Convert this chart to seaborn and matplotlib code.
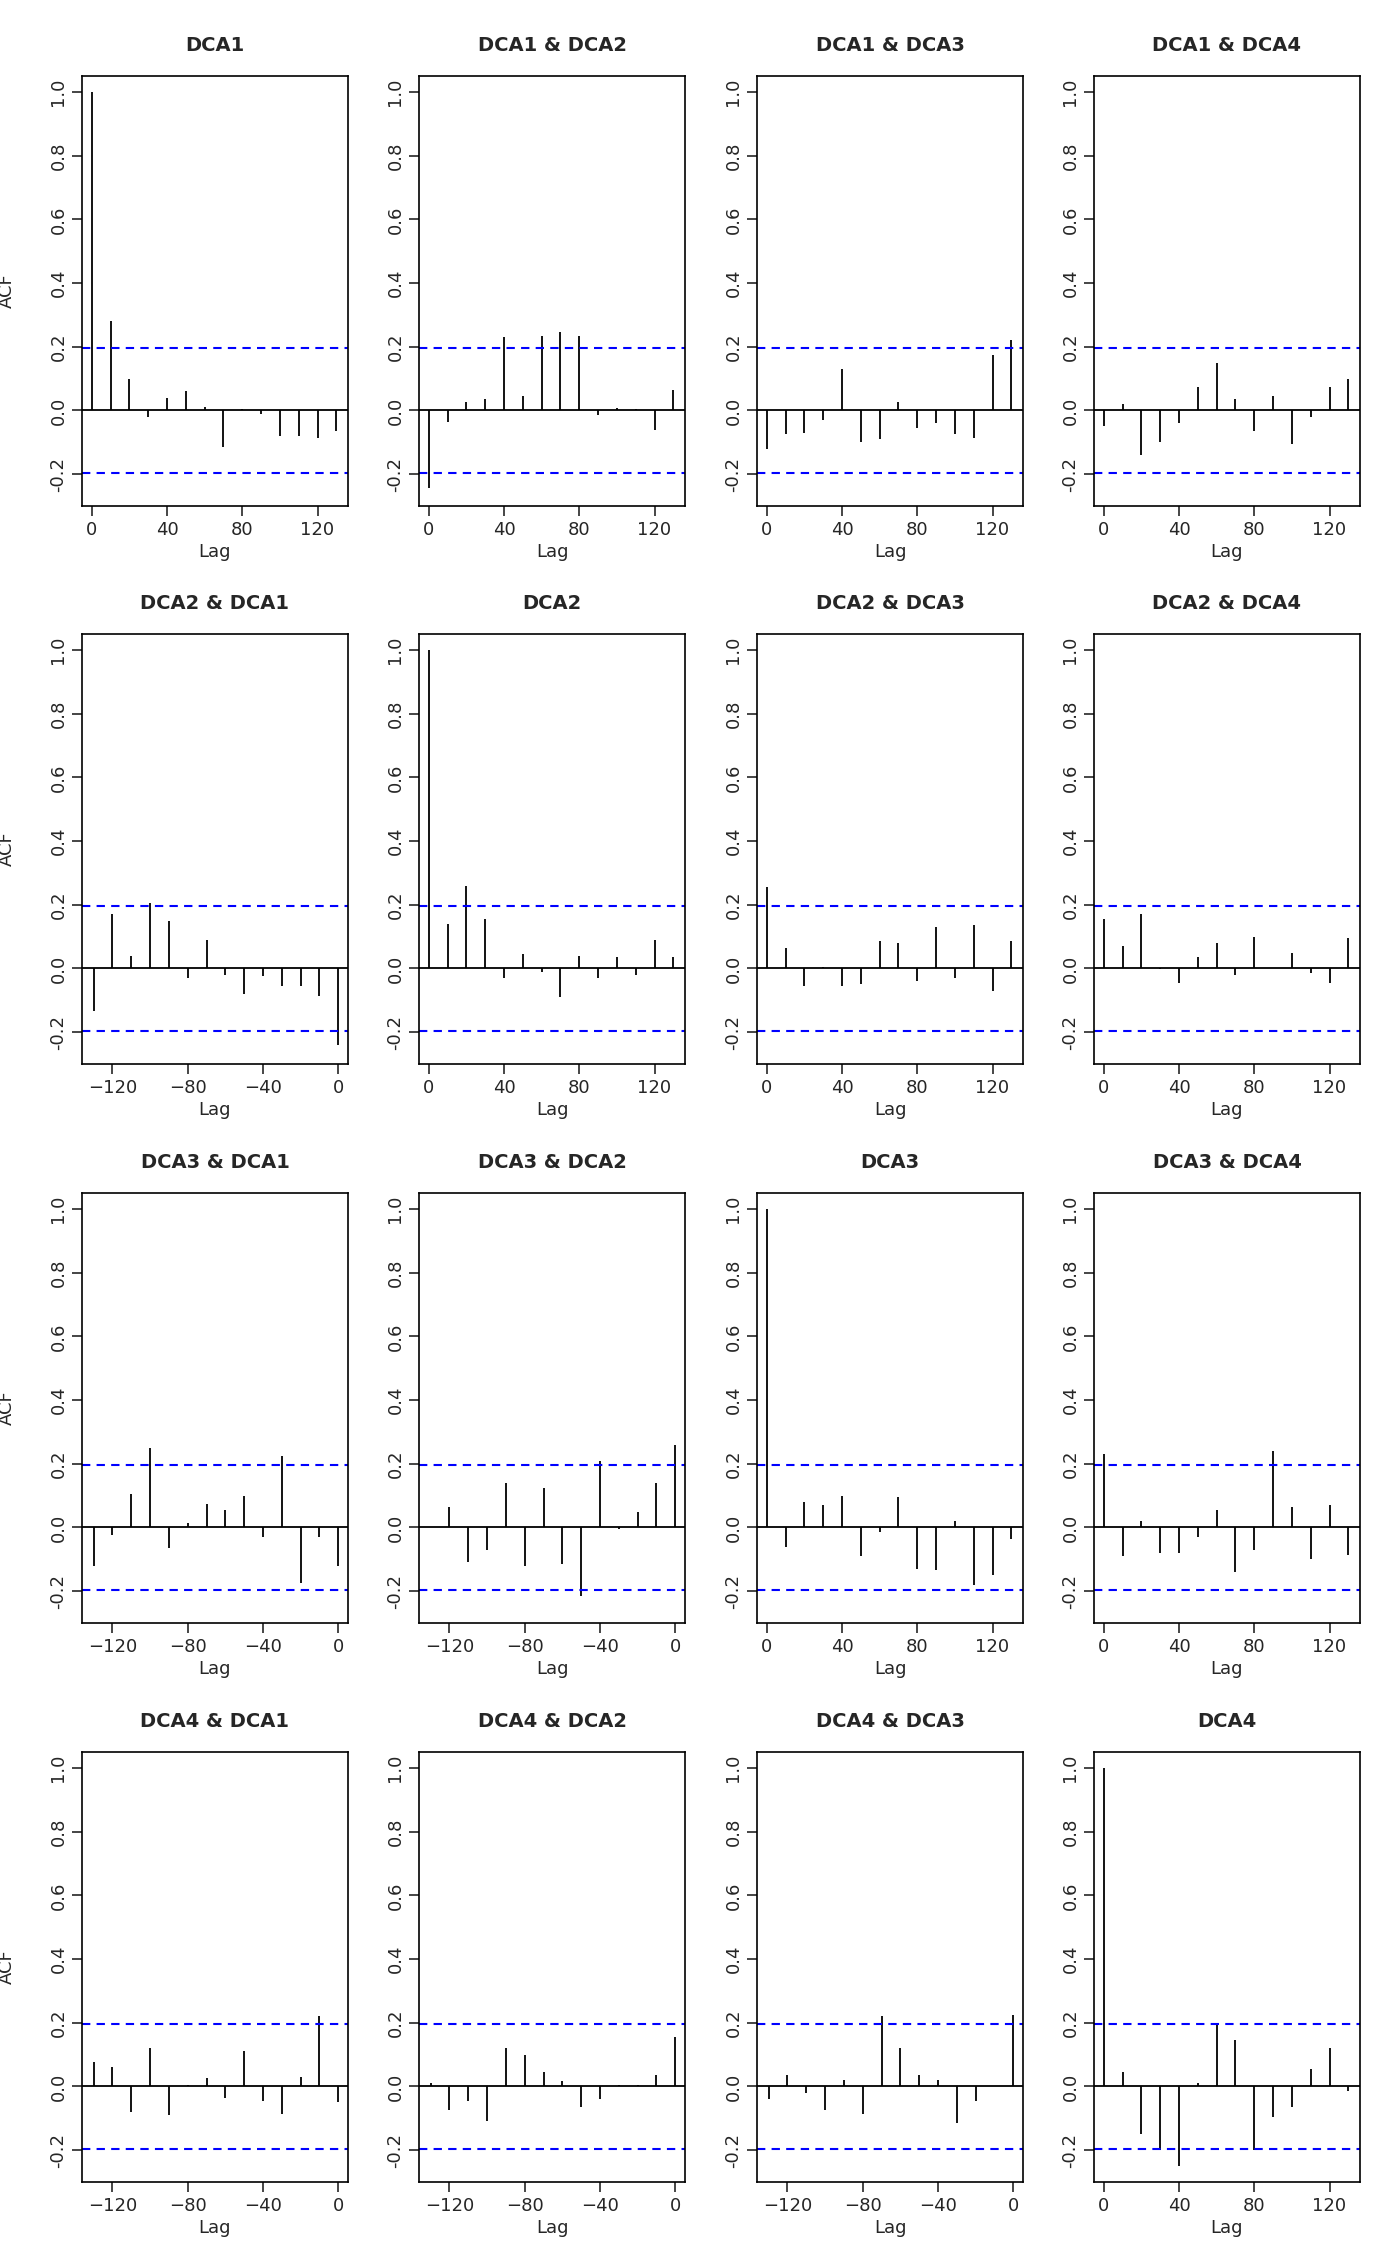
import matplotlib
matplotlib.use("Agg")
import matplotlib.pyplot as plt
import numpy as np
import seaborn as sns

names = ["DCA1", "DCA2", "DCA3", "DCA4"]
pos_lags = np.arange(0, 140, 10)
neg_lags = np.arange(-130, 10, 10)
ci = 0.196

# acf values, row = first series, col = second series
acf = {
    (0, 0): [1.0, 0.28, 0.10, -0.02, 0.04, 0.06, 0.01, -0.115, 0.005, -0.01, -0.08, -0.08, -0.085, -0.065],
    (0, 1): [-0.244, -0.035, 0.025, 0.035, 0.23, 0.045, 0.235, 0.245, 0.235, -0.015, 0.008, 0.004, -0.06, 0.065],
    (0, 2): [-0.12, -0.075, -0.07, -0.03, 0.13, -0.1, -0.09, 0.025, -0.055, -0.04, -0.075, -0.085, 0.175, 0.22],
    (0, 3): [-0.05, 0.02, -0.14, -0.1, -0.04, 0.075, 0.15, 0.035, -0.065, 0.045, -0.105, -0.022, 0.075, 0.1],
    (1, 0): [-0.135, 0.17, 0.04, 0.205, 0.15, -0.03, 0.09, -0.02, -0.08, -0.025, -0.055, -0.055, -0.085, -0.24],
    (1, 1): [1.0, 0.14, 0.26, 0.155, -0.03, 0.045, -0.01, -0.09, 0.04, -0.03, 0.035, -0.02, 0.09, 0.035],
    (1, 2): [0.255, 0.065, -0.055, 0.005, -0.055, -0.05, 0.085, 0.08, -0.04, 0.13, -0.03, 0.135, -0.07, 0.085],
    (1, 3): [0.155, 0.07, 0.17, -0.003, -0.045, 0.035, 0.08, -0.02, 0.1, 0.0, 0.05, -0.015, -0.045, 0.095],
    (2, 0): [-0.12, -0.025, 0.105, 0.25, -0.065, 0.015, 0.075, 0.055, 0.1, -0.03, 0.225, -0.175, -0.03, -0.12],
    (2, 1): [0.0, 0.065, -0.11, -0.07, 0.14, -0.12, 0.125, -0.115, -0.215, 0.21, -0.005, 0.05, 0.14, 0.26],
    (2, 2): [1.0, -0.06, 0.08, 0.07, 0.1, -0.09, -0.015, 0.095, -0.13, -0.135, 0.02, -0.18, -0.15, -0.035],
    (2, 3): [0.23, -0.09, 0.02, -0.08, -0.08, -0.03, 0.055, -0.14, -0.07, 0.24, 0.065, -0.1, 0.07, -0.085],
    (3, 0): [0.078, 0.06, -0.08, 0.12, -0.09, 0.003, 0.025, -0.035, 0.11, -0.045, -0.085, 0.03, 0.22, -0.05],
    (3, 1): [0.01, -0.075, -0.045, -0.11, 0.12, 0.1, 0.045, 0.018, -0.065, -0.04, 0.005, 0.003, 0.035, 0.155],
    (3, 2): [-0.04, 0.035, -0.02, -0.075, 0.02, -0.085, 0.22, 0.12, 0.035, 0.02, -0.115, -0.045, 0.0, 0.225],
    (3, 3): [1.0, 0.045, -0.15, -0.2, -0.25, 0.01, 0.195, 0.145, -0.2, -0.095, -0.065, 0.055, 0.12, -0.015],
}

sns.set_style("white")
plt.rcParams['font.family'] = ['DejaVu Sans']

fig = plt.figure(figsize=(14, 22.66), dpi=100)
lefts = [82, 419, 757, 1094]
tops = [76, 634, 1193, 1752]
w, h = 266, 430
W, H = 1400, 2266

for i in range(4):
    for j in range(4):
        ax = fig.add_axes([lefts[j] / W, 1 - (tops[i] + h) / H, w / W, h / H])
        lags = neg_lags if i > j else pos_lags
        vals = acf[(i, j)]
        ax.vlines(lags, 0, vals, color="black", lw=1.3)
        ax.axhline(0, color="black", lw=1.3)
        ax.axhline(ci, color="blue", lw=1.5, ls=(0, (4, 3)))
        ax.axhline(-ci, color="blue", lw=1.5, ls=(0, (4, 3)))
        ax.set_ylim(-0.30, 1.05)
        if i > j:
            ax.set_xlim(-136.2, 5.2)
            ax.set_xticks([-120, -80, -40, 0])
        else:
            ax.set_xlim(-5.2, 136.2)
            ax.set_xticks([0, 40, 80, 120])
        ax.set_yticks([-0.2, 0.0, 0.2, 0.4, 0.6, 0.8, 1.0])
        ax.set_yticklabels(["-0.2", "0.0", "0.2", "0.4", "0.6", "0.8", "1.0"],
                           rotation=90, va="center")
        ax.tick_params(axis="both", direction="out", length=7, width=1.2,
                       labelsize=13, left=True, bottom=True)
        for s in ax.spines.values():
            s.set_color("black")
            s.set_linewidth(1.2)
        ax.set_xlabel("Lag", fontsize=13, labelpad=3)
        title = names[i] if i == j else f"{names[i]} & {names[j]}"
        ax.set_title(title, fontsize=14, fontweight="bold", pad=18)
        if j == 0:
            ax.set_ylabel("ACF", fontsize=13)
            ax.yaxis.set_label_coords(-0.25, 0.5)

fig.savefig("out.png", dpi=100)
